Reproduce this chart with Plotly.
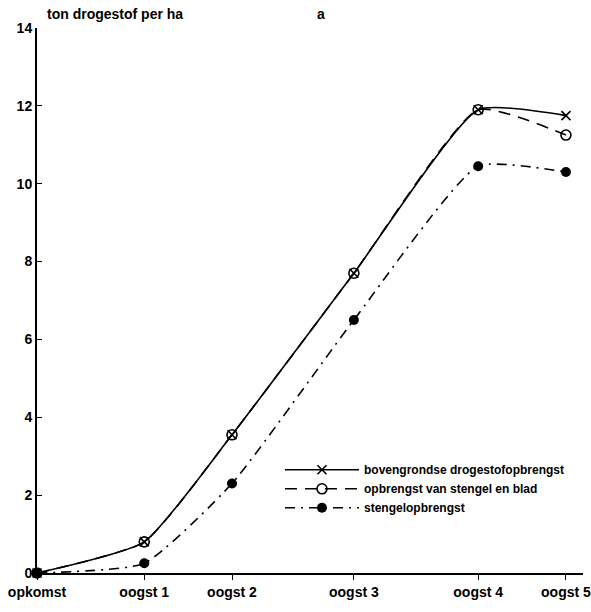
import plotly.graph_objects as go

categories = ["opkomst", "oogst 1", "oogst 2", "oogst 3", "oogst 4", "oogst 5"]
x_days = [0, 44, 80, 130, 181, 217]
bovengronds = [0.0, 0.8, 3.55, 7.7, 11.9, 11.75]
stengel_blad = [0.0, 0.8, 3.55, 7.7, 11.9, 11.25]
stengel = [0.0, 0.25, 2.3, 6.5, 10.45, 10.3]
y_ticks = [0, 2, 4, 6, 8, 10, 12, 14]

FONT = "Liberation Sans"
SM = 0.5

fig = go.Figure()
fig.add_trace(go.Scatter(
    x=x_days, y=bovengronds, name="<b>bovengrondse drogestofopbrengst</b>",
    mode="lines+markers", line=dict(color="black", width=1.6, shape="spline", smoothing=SM),
    marker=dict(symbol="x-thin-open", size=9, line=dict(color="black", width=1.6)),
    cliponaxis=False))
fig.add_trace(go.Scatter(
    x=x_days, y=stengel_blad, name="<b>opbrengst van stengel en blad</b>",
    mode="lines+markers", line=dict(color="black", width=1.6, dash="12px,8px", shape="spline", smoothing=SM),
    marker=dict(symbol="circle-open", size=10, line=dict(color="black", width=1.6)),
    cliponaxis=False))
fig.add_trace(go.Scatter(
    x=x_days, y=stengel, name="<b>stengelopbrengst</b>",
    mode="lines+markers", line=dict(color="black", width=1.6, dash="10px,6px,2px,6px", shape="spline", smoothing=SM),
    marker=dict(symbol="circle", size=10, color="black"),
    cliponaxis=False))

fig.update_layout(
    width=591, height=612,
    margin=dict(l=37, r=8, t=28, b=39),
    paper_bgcolor="white", plot_bgcolor="white",
    font=dict(family=FONT, size=13, color="black"),
    showlegend=True,
    legend=dict(x=0.445, y=0.216, xanchor="left", yanchor="top",
                bgcolor="rgba(0,0,0,0)", font=dict(size=12, family=FONT),
                itemwidth=74, tracegroupgap=0),
    xaxis=dict(range=[0, 224], tickmode="array", tickvals=x_days,
               ticktext=["<b>%s</b>" % c for c in categories], automargin=False,
               ticklabeloverflow="allow",
               showgrid=False, zeroline=False, showline=True, linecolor="black", linewidth=2,
               ticks="outside", ticklen=5, tickcolor="black", tickfont=dict(size=14, family=FONT)),
    yaxis=dict(range=[0, 14], tickmode="array", tickvals=y_ticks,
               ticktext=["<b>%d</b>" % v for v in y_ticks], automargin=False,
               ticklabeloverflow="allow",
               showgrid=False, zeroline=False, showline=True, linecolor="black", linewidth=2,
               ticks="inside", ticklen=5, tickcolor="black", tickfont=dict(size=14, family=FONT)),
    annotations=[
        dict(text="<b>ton drogestof per ha</b>", xref="paper", yref="paper", x=0.015, y=1.0,
             xanchor="left", yanchor="bottom", yshift=4, showarrow=False, font=dict(size=14, family=FONT)),
        dict(text="<b>a</b>", xref="paper", yref="paper", x=0.52, y=1.0,
             xanchor="center", yanchor="bottom", yshift=4, showarrow=False, font=dict(size=14, family=FONT)),
    ],
)

fig.write_html("out.html", config={"displayModeBar": False},
               post_script="document.body.style.margin='0';")
